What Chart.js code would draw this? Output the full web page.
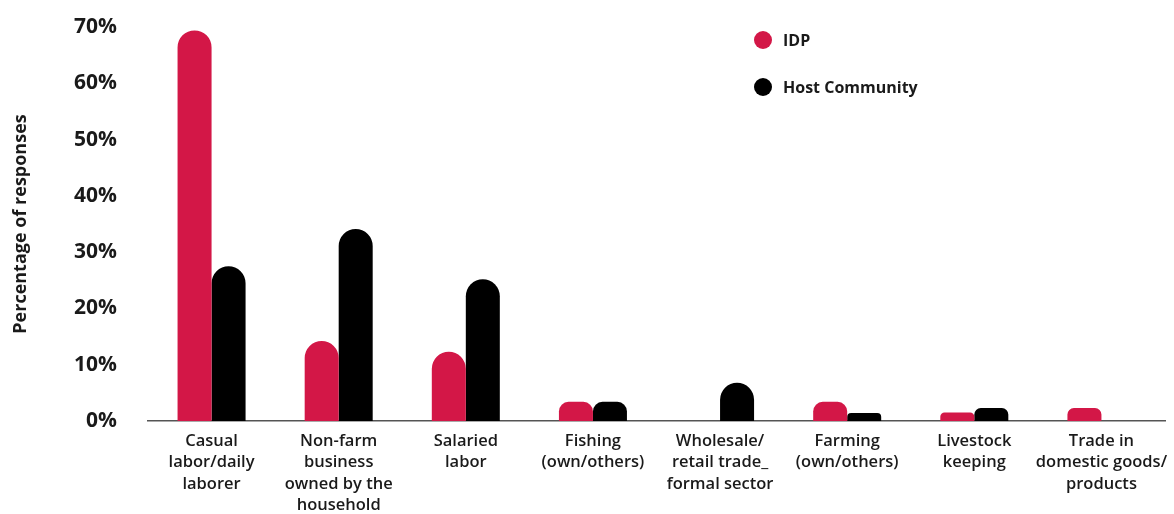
<!DOCTYPE html>
<html>
<head>
<meta charset="utf-8">
<script src="https://cdn.jsdelivr.net/npm/chart.js@4/dist/chart.umd.min.js"></script>
<style>
    html, body { margin: 0; padding: 0; background: #fff; }
    #wrap { width: 1174px; height: 514px; }
</style>
</head>
<body>
<div id="wrap"><canvas id="barras" width="1174" height="514"></canvas></div>
<script>
const categorias = [
    ["Casual", "labor/daily", "laborer"],
    ["Non-farm", "business", "owned by the", "household"],
    ["Salaried", "labor"],
    ["Fishing", "(own/others)"],
    ["Wholesale/", "retail trade_", "formal sector"],
    ["Farming", "(own/others)"],
    ["Livestock", "keeping"],
    ["Trade in", "domestic goods/", "products"],
];
const idp = [69.4, 14.2, 12.3, 3.4, 0, 3.4, 1.5, 2.3];
const host = [27.5, 34.1, 25.2, 3.4, 6.8, 1.4, 2.3, 0];

const fuente = "'Open Sans', 'DejaVu Sans', sans-serif";

// leyenda vertical dentro del área del gráfico
const leyenda = {
    id: "leyenda",
    afterDraw(chart) {
        const ctx = chart.ctx;
        const x = chart.chartArea.left + 615;
        const ys = [40, 87];
        ctx.save();
        chart.data.datasets.forEach((ds, i) => {
            ctx.beginPath();
            ctx.fillStyle = ds.backgroundColor;
            ctx.arc(x, ys[i], 9, 0, Math.PI * 2);
            ctx.fill();
            ctx.fillStyle = "#1a1a1a";
            ctx.font = "700 16px " + fuente;
            ctx.textBaseline = "middle";
            ctx.textAlign = "left";
            ctx.fillText(ds.label, x + 20, ys[i] + 1);
        });
        ctx.restore();
    },
};

new Chart(document.getElementById("barras"), {
    type: "bar",
    data: {
        labels: categorias,
        datasets: [
            {
                label: "IDP",
                data: idp,
                backgroundColor: "#D31747",
                borderRadius: { topLeft: 20, topRight: 20 },
                borderSkipped: "bottom",
            },
            {
                label: "Host Community",
                data: host,
                backgroundColor: "#000000",
                borderRadius: { topLeft: 20, topRight: 20 },
                borderSkipped: "bottom",
            },
        ],
    },
    options: {
        responsive: false,
        animation: false,
        layout: { padding: { top: 27, right: 9, left: 0, bottom: 0 } },
        datasets: { bar: { barPercentage: 1, categoryPercentage: 0.535 } },
        scales: {
            x: {
                grid: { display: false },
                border: { color: "#555", width: 1.5 },
                ticks: {
                    font: { family: fuente, size: 16.5, weight: "600", lineHeight: 1.28 },
                    color: "#1a1a1a",
                    maxRotation: 0,
                    autoSkip: false,
                    padding: 2,
                },
                afterFit: (s) => { s.height = 93; },
            },
            y: {
                min: 0,
                max: 70,
                grid: { display: false },
                border: { display: false },
                title: {
                    display: true,
                    text: "Percentage of responses",
                    font: { family: fuente, size: 18, weight: "700" },
                    color: "#1a1a1a",
                    padding: { top: 10, bottom: 0 },
                },
                ticks: {
                    stepSize: 10,
                    font: { family: fuente, size: 21, weight: "700" },
                    color: "#1a1a1a",
                    padding: 23,
                    callback: (v) => v + "%",
                },
                afterFit: (s) => {
                    s.width = 148;
                    s.paddingTop = 0;
                    s.paddingBottom = 0;
                },
            },
        },
        plugins: {
            legend: { display: false },
            tooltip: { enabled: false },
        },
    },
    plugins: [leyenda],
});
</script>
</body>
</html>
